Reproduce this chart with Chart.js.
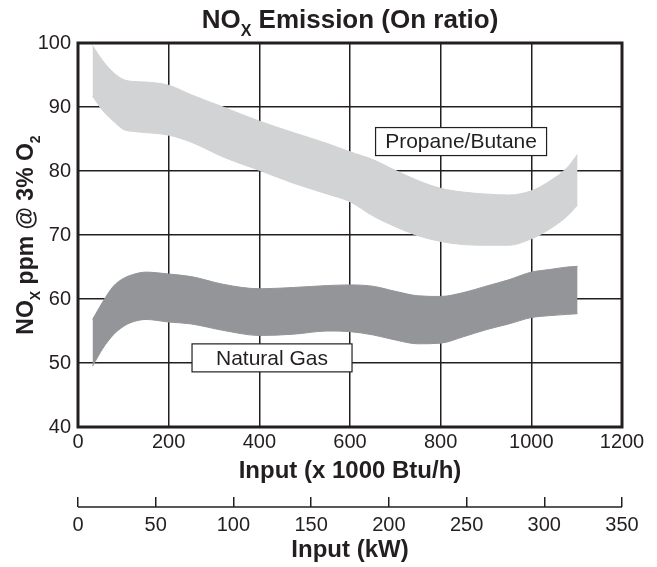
<!DOCTYPE html>
<html>
<head>
<meta charset="utf-8">
<script src="https://cdn.jsdelivr.net/npm/chart.js@4.4.1/dist/chart.umd.min.js"></script>
<style>
  html, body { margin: 0; padding: 0; background: #fff; }
</style>
</head>
<body>
<canvas id="noxChart" width="657" height="567"></canvas>
<script>
// input, x 1000 Btu/h
var inputBtu = [32, 55, 78, 100, 120, 150, 200, 250, 320, 400, 475, 550, 600, 650, 700, 750, 800, 850, 900, 950, 1000, 1040, 1080, 1102];

// NOx ppm @ 3% O2, upper and lower edge of each band
var propaneHigh = [99.6, 97.2, 95.4, 94.3, 94.0, 93.9, 93.4, 91.9, 90.0, 87.8, 86.0, 84.3, 83.0, 81.8, 80.1, 78.5, 77.3, 76.7, 76.4, 76.25, 76.9, 78.4, 80.6, 82.6];
var propaneLow = [91.7, 89.4, 87.8, 86.5, 86.2, 86.0, 85.6, 84.5, 82.2, 80.1, 78.1, 76.4, 75.2, 73.0, 71.3, 69.9, 69.0, 68.5, 68.4, 68.4, 69.4, 70.9, 73.0, 74.7];
var gasHigh = [56.8, 59.6, 62.0, 63.2, 63.8, 64.2, 63.9, 63.5, 62.3, 61.6, 61.8, 62.1, 62.2, 62.0, 61.2, 60.5, 60.4, 61.0, 62.0, 63.0, 64.2, 64.6, 65.0, 65.1];
var gasLow = [49.5, 52.3, 54.4, 55.7, 56.4, 56.8, 56.4, 56.1, 55.1, 54.3, 54.5, 55.0, 54.9, 54.4, 53.6, 53.0, 53.1, 54.1, 55.2, 56.1, 57.1, 57.4, 57.6, 57.7];

// axis ranges
var btuRange = [0, 1200, 200];
var kwRange = [0, 350, 50];
var ppmRange = [40, 100, 10];

// band labels (placed in data units)
var bandNames = ['Propane/Butane', 'Natural Gas'];
var bandNameX = [845, 428];
var bandNameY = [84.6, 50.8];

var ink = '#231f20';
var fontFam = '"Liberation Sans", Arial, Helvetica, sans-serif';

function pts(ys) {
  return inputBtu.map(function (x, i) { return { x: x, y: ys[i] }; });
}

function band(data, color, fill) {
  return {
    data: pts(data),
    backgroundColor: color,
    borderColor: color,
    borderWidth: 1,
    pointRadius: 0,
    fill: fill,
    cubicInterpolationMode: 'monotone'
  };
}

// plain numbers, no grouping
function plain(v) { return String(v); }

// text with subscripts, centred on x
function richText(ctx, parts, x, y, size) {
  var total = 0;
  parts.forEach(function (p) {
    ctx.font = 'bold ' + (p.sub ? Math.round(size * 0.6) : size) + 'px ' + fontFam;
    p.w = ctx.measureText(p.t).width;
    total += p.w;
  });
  var cx = x - total / 2;
  ctx.textAlign = 'left';
  ctx.textBaseline = 'alphabetic';
  parts.forEach(function (p) {
    ctx.font = 'bold ' + (p.sub ? Math.round(size * 0.6) : size) + 'px ' + fontFam;
    ctx.fillText(p.t, cx, p.sub ? y + size * 0.3 : y);
    cx += p.w;
  });
}

var extras = {
  id: 'extras',
  afterDatasetsDraw: function (chart) {
    var ctx = chart.ctx;
    var xs = chart.scales.x, ys = chart.scales.y;
    ctx.save();
    // label boxes
    var boxW = [171, 160];
    for (var i = 0; i < bandNames.length; i++) {
      var px = xs.getPixelForValue(bandNameX[i]);
      var py = ys.getPixelForValue(bandNameY[i]);
      ctx.fillStyle = '#fff';
      ctx.fillRect(px - boxW[i] / 2, py - 14, boxW[i], 28);
      ctx.strokeStyle = ink;
      ctx.lineWidth = 1.2;
      ctx.strokeRect(px - boxW[i] / 2, py - 14, boxW[i], 28);
      ctx.fillStyle = ink;
      ctx.font = '21px ' + fontFam;
      ctx.textAlign = 'center';
      ctx.textBaseline = 'middle';
      ctx.fillText(bandNames[i], px, py + 1);
    }
    // thick frame
    var a = chart.chartArea;
    ctx.strokeStyle = ink;
    ctx.lineWidth = 3;
    ctx.strokeRect(a.left, a.top, a.right - a.left, a.bottom - a.top);
    ctx.restore();
  },
  afterDraw: function (chart) {
    var ctx = chart.ctx;
    var a = chart.chartArea;
    var k = chart.scales.x2;
    ctx.save();
    // kW axis line below its ticks
    ctx.strokeStyle = ink;
    ctx.lineWidth = 1.5;
    ctx.beginPath();
    ctx.moveTo(k.left, k.top + 10);
    ctx.lineTo(k.right, k.top + 10);
    ctx.stroke();
    ctx.fillStyle = ink;
    // main title
    richText(ctx, [{ t: 'NO' }, { t: 'X', sub: true }, { t: ' Emission (On ratio)' }], (a.left + a.right) / 2, 28, 26);
    // y title
    ctx.translate(33, (a.top + a.bottom) / 2);
    ctx.rotate(-Math.PI / 2);
    richText(ctx, [{ t: 'NO' }, { t: 'X', sub: true }, { t: ' ppm @ 3% O' }, { t: '2', sub: true }], 0, 0, 23);
    ctx.restore();
  }
};

const noxChart = document.getElementById('noxChart');

const noxPlot = new Chart(noxChart, {
  type: 'line',
  data: {
    datasets: [
      band(propaneHigh, '#d1d3d4', '+1'),
      band(propaneLow, '#d1d3d4', false),
      band(gasHigh, '#939598', '+1'),
      band(gasLow, '#939598', false)
    ]
  },
  options: {
    responsive: false,
    animation: false,
    layout: { padding: { top: 43, right: 35, bottom: 0, left: 0 } },
    plugins: { legend: { display: false }, tooltip: { enabled: false } },
    scales: {
      x: {
        type: 'linear',
        position: 'bottom',
        min: btuRange[0], max: btuRange[1],
        ticks: { stepSize: btuRange[2], color: ink, font: { size: 20, family: fontFam }, padding: 3, maxRotation: 0, callback: plain },
        grid: { color: ink, lineWidth: 1.5, drawTicks: false },
        border: { display: false },
        title: { display: true, text: 'Input (x 1000 Btu/h)', color: ink, font: { size: 24, weight: 'bold', family: fontFam }, padding: { top: 0, bottom: 11 } },
        afterFit: function (s) { s.height = 70; }
      },
      x2: {
        type: 'linear',
        position: 'bottom',
        min: kwRange[0], max: kwRange[1],
        ticks: { stepSize: kwRange[2], color: ink, font: { size: 20, family: fontFam }, padding: 6, maxRotation: 0, callback: plain },
        grid: { color: ink, lineWidth: 1.5, drawOnChartArea: false, tickLength: 10 },
        border: { display: false },
        title: { display: true, text: 'Input (kW)', color: ink, font: { size: 24, weight: 'bold', family: fontFam }, padding: { top: 0, bottom: 2 } },
        afterFit: function (s) { s.height = 70; }
      },
      y: {
        min: ppmRange[0], max: ppmRange[1],
        ticks: { stepSize: ppmRange[2], color: ink, font: { size: 20, family: fontFam }, padding: 7, callback: plain },
        grid: { color: ink, lineWidth: 1.5, drawTicks: false },
        border: { display: false },
        afterFit: function (s) { s.width = 78; }
      }
    }
  },
  plugins: [extras]
});
</script>
</body>
</html>
